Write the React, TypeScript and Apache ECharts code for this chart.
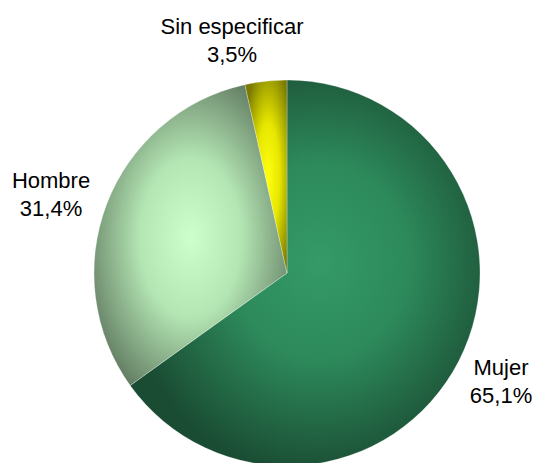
import React, { useEffect, useRef } from "react";
import * as echarts from "echarts";

const categories = ["Mujer", "Hombre", "Sin especificar"];
const values = [65.1, 31.4, 3.5];
const centerColors = ["#349a67", "#ccffcc", "#ffff10"];
const midColors = ["#2d8a5b", "#b4e6b4", "#e6e600"];
const edgeColors = ["#1a4c33", "#637d63", "#7a7a00"];
const gradientCenters = [
  [0.54, 0.47, 0.56],
  [0.5, 0.51, 0.58],
  [0.55, 0.5, 0.62],
];
const labelCenters = [
  [501, 381],
  [51, 194],
  [232, 40],
];

const fmt = (v: number) => v.toFixed(1).replace(".", ",") + "%";

export default function App() {
  const ref = useRef<HTMLDivElement>(null);
  useEffect(() => {
    if (!ref.current) return;
    const chart = echarts.init(ref.current, undefined, { renderer: "svg" });
    const data = categories.map((name, i) => ({
      name,
      value: values[i],
      itemStyle: {
        color: new echarts.graphic.RadialGradient(
          gradientCenters[i][0],
          gradientCenters[i][1],
          gradientCenters[i][2],
          [
            { offset: 0, color: centerColors[i] },
            { offset: 0.45, color: midColors[i] },
            { offset: 1, color: edgeColors[i] },
          ]
        ),
      },
    }));
    chart.setOption({
      animation: false,
      backgroundColor: "#ffffff",
      series: [
        {
          type: "pie",
          center: [287, 273],
          radius: 193,
          startAngle: 90,
          clockwise: true,
          data,
          itemStyle: {
            borderColor: "rgba(255,255,255,0.45)",
            borderWidth: 0.6,
          },
          label: {
            show: true,
            position: "outside",
            formatter: (p: any) => `${p.name}\n${fmt(p.value)}`,
            fontFamily: "Liberation Sans, Arial, sans-serif",
            fontSize: 22,
            lineHeight: 28,
            color: "#000000",
            align: "center",
            overflow: "none",
            width: 200,
          },
          labelLine: { show: false },
          labelLayout: (params: any) => {
            const c = labelCenters[params.dataIndex];
            return {
              x: c[0],
              y: c[1],
              align: "center",
              verticalAlign: "middle",
            };
          },
          emphasis: { disabled: true },
        },
      ],
    });
    return () => chart.dispose();
  }, []);
  return (
    <div
      ref={ref}
      style={{ position: "fixed", left: 0, top: 0, width: 536, height: 463 }}
    />
  );
}
